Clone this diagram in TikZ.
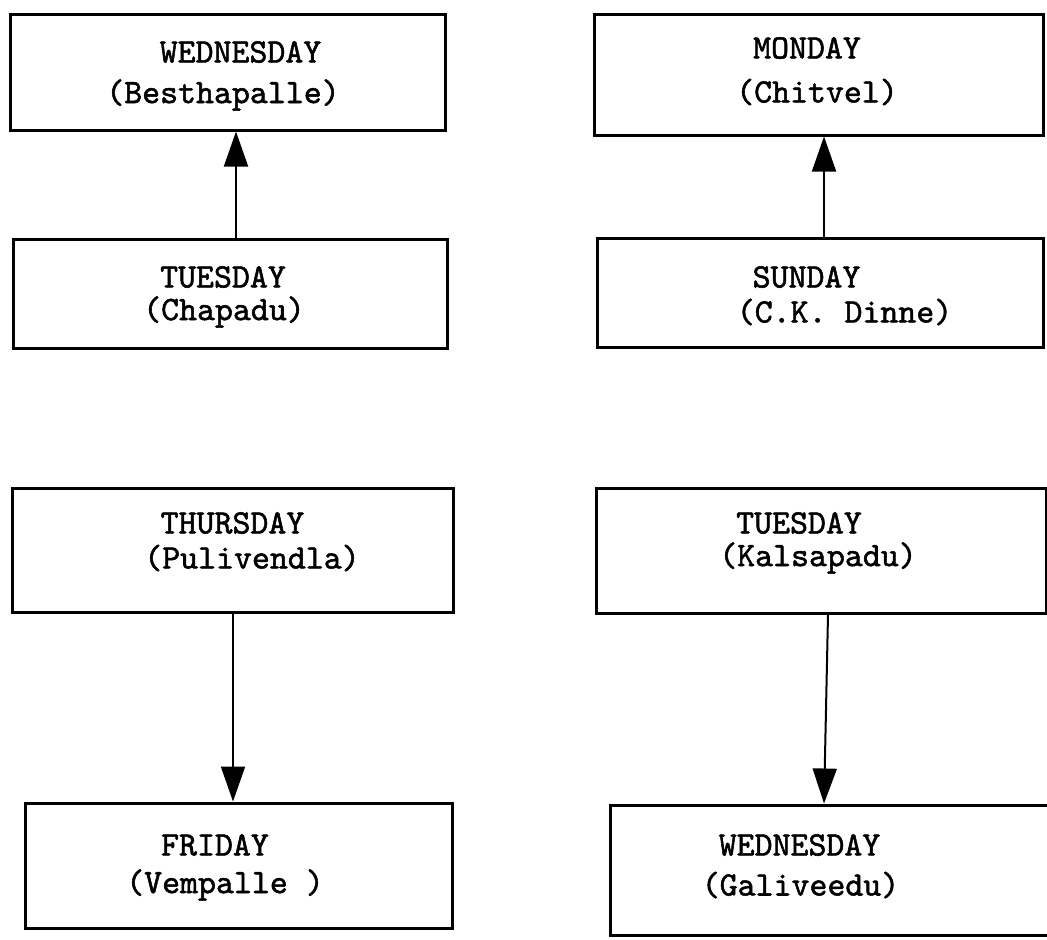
\documentclass[tikz,border=0pt]{standalone}
\usepackage{fontspec}
\newfontfamily\typewriter{lmmono10-regular.otf}[FakeBold=1.5]
\usetikzlibrary{arrows.meta,fit}
\tikzset{
  dayframe/.style={draw, rectangle, line width=1.5pt, inner sep=0pt},
  daytext/.style={inner sep=0pt, font=\typewriter\fontsize{17.1pt}{20pt}\selectfont},
  route/.style={line width=1pt, -{Triangle[length=17.5pt,width=12pt]}},
}
\begin{document}
\begin{tikzpicture}[x=0.5pt,y=-0.5pt]
\clip (0,0) rectangle (1047,939);

% market-day frames
\node[dayframe, fit={(10,14) (445,130)}]   (wedB) {};
\node[dayframe, fit={(13,239) (447,348)}]  (tueC) {};
\node[dayframe, fit={(594,14) (1043,135)}] (monC) {};
\node[dayframe, fit={(597,238) (1043,347)}] (sunD) {};
\node[dayframe, fit={(12,488) (453,612)}]  (thuP) {};
\node[dayframe, fit={(25,803) (452,928)}]  (friV) {};
\node[dayframe, fit={(596,488) (1046,613)}] (tueK) {};
\node[dayframe, fit={(610,805) (1062,935)}] (wedG) {};

% day and village names
\node[daytext] (wedB-day)   at (240.5,52) {WEDNESDAY};
\node[daytext] (wedB-place) at (223,95)   {(Besthapalle)};
\node[daytext] (tueC-day)   at (223,277)  {TUESDAY};
\node[daytext] (tueC-place) at (224,312)  {(Chapadu)};
\node[daytext] (monC-day)   at (807,48)   {MONDAY};
\node[daytext] (monC-place) at (817,92)   {(Chitvel)};
\node[daytext] (sunD-day)   at (806.5,277) {SUNDAY};
\node[daytext] (sunD-place) at (844.5,312) {(C.K. Dinne)};
\node[daytext] (thuP-day)   at (232.5,523) {THURSDAY};
\node[daytext] (thuP-place) at (252,558)   {(Pulivendla)};
\node[daytext] (friV-day)   at (215,845)   {FRIDAY};
\node[daytext] (friV-place) at (225,885)   {(Vempalle )};
\node[daytext] (tueK-day)   at (799,523)   {TUESDAY};
\node[daytext] (tueK-place) at (818,558)   {(Kalsapadu)};
\node[daytext] (wedG-day)   at (799.5,845) {WEDNESDAY};
\node[daytext] (wedG-place) at (800.5,885) {(Galiveedu)};

% columns of the connecting lines
\coordinate (colA) at (236,0);
\coordinate (colB) at (824,0);
\coordinate (colC) at (233,0);
\coordinate (colD1) at (828,0);
\coordinate (colD2) at (824,0);

% movements between markets
\draw[route] (tueC.north -| colA) -- (wedB.south -| colA);
\draw[route] (sunD.north -| colB) -- (monC.south -| colB);
\draw[route] (thuP.south -| colC) -- (friV.north -| colC);
\draw[route] (tueK.south -| colD1) -- (wedG.north -| colD2);
\end{tikzpicture}
\end{document}
